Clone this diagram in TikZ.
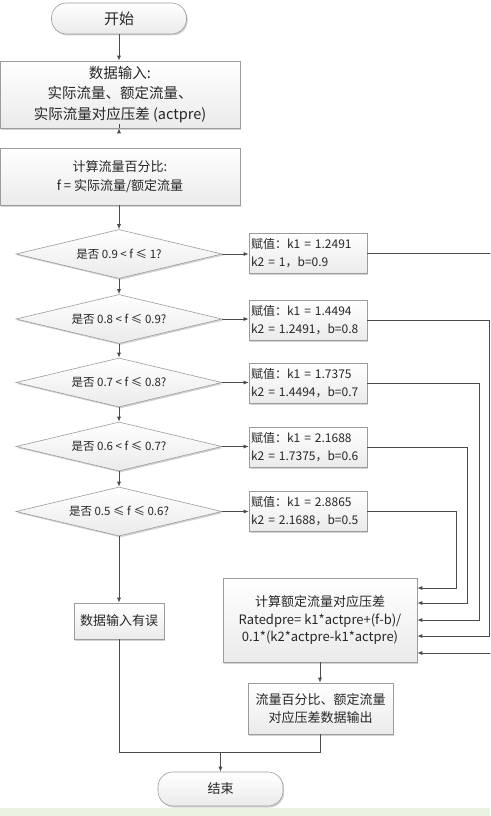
\documentclass[tikz,border=0pt]{standalone}
\usepackage{fontspec}
\setmainfont{Noto Sans CJK SC}
\usetikzlibrary{shapes.geometric,arrows.meta,shadows}
\definecolor{ln}{HTML}{4A4A4A}
\definecolor{bd}{HTML}{9C9C9C}
\definecolor{strip}{HTML}{EAF3E2}
\begin{document}
\begin{tikzpicture}[x=1pt,y=-1pt,
  shd/.style={drop shadow={shadow xshift=1.2pt,shadow yshift=-1.5pt,opacity=0.35,fill=gray}},
  box/.style={rectangle,draw=bd,line width=0.6pt,top color=white,bottom color=gray!16,shd,inner sep=2pt,align=center,text=black!85},
  term/.style={box,rounded corners=15pt},
  dia/.style={diamond,draw=bd,line width=0.6pt,top color=white,bottom color=gray!16,shd,inner sep=0pt,aspect=4.2,minimum width=206pt,minimum height=49pt,font=\fontsize{11.5}{13}\selectfont,text=black!85},
  asg/.style={box,align=left,text width=114pt,minimum height=40pt,font=\fontsize{12}{18}\selectfont},
  ln/.style={draw=ln,line width=0.8pt},
  arr/.style={ln,-{Latex[length=5pt,width=4pt]}}]
\clip (0,0) rectangle (490,816);
\fill[white] (0,0) rectangle (490,816);
\fill[strip] (0,808) rectangle (490,816);

\node[term,minimum width=135pt,minimum height=31pt,font=\fontsize{15}{18}\selectfont] (start) at (119,18.5) {开始};
\node[box,minimum width=240pt,minimum height=67pt,font=\fontsize{14.5}{20.5}\selectfont] (in) at (120,94.5) {数据输入:\\实际流量、额定流量、\\实际流量对应压差 (actpre)};
\node[box,minimum width=240pt,minimum height=57pt,font=\fontsize{13}{18.5}\selectfont] (calc) at (120,176.5) {计算流量百分比:\\f = 实际流量/额定流量};

\node[dia] (d1) at (119,254) {是否 0.9 < f ≤ 1?};
\node[dia] (d2) at (119,319) {是否 0.8 < f ≤ 0.9?};
\node[dia] (d3) at (119,382.5) {是否 0.7 < f ≤ 0.8?};
\node[dia] (d4) at (119,446.5) {是否 0.6 < f ≤ 0.7?};
\node[dia] (d5) at (119,511.5) {是否 0.5 ≤ f ≤ 0.6?};

\node[asg] (a1) at (308,253) {赋值：k1 = 1.2491\\k2 = 1，b=0.9};
\node[asg] (a2) at (308,320.5) {赋值：k1 = 1.4494\\k2 = 1.2491，b=0.8};
\node[asg] (a3) at (308,383) {赋值：k1 = 1.7375\\k2 = 1.4494，b=0.7};
\node[asg] (a4) at (308,447.5) {赋值：k1 = 2.1688\\k2 = 1.7375，b=0.6};
\node[asg] (a5) at (308,511.5) {赋值：k1 = 2.8865\\k2 = 2.1688，b=0.5};

\node[box,minimum width=90pt,minimum height=36pt,font=\fontsize{13}{16}\selectfont] (err) at (119,621) {数据输入有误};
\node[box,minimum width=194pt,minimum height=84pt,font=\fontsize{13}{17.5}\selectfont] (cp) at (320,620) {计算额定流量对应压差\\Ratedpre= k1*actpre+(f-b)/\\0.1*(k2*actpre-k1*actpre)};
\node[box,minimum width=145pt,minimum height=51pt,font=\fontsize{13}{17.5}\selectfont] (outp) at (320.5,708.5) {流量百分比、额定流量\\对应压差数据输出};
\node[term,minimum width=125pt,minimum height=34pt,font=\fontsize{13}{16}\selectfont] (end) at (220.5,789) {结束};

\coordinate (v1) at (495,0);
\coordinate (v2) at (489,0);
\coordinate (v3) at (479,0);
\coordinate (v4) at (467,0);
\coordinate (v5) at (456,0);
\coordinate (e1) at ([yshift=-33pt]cp.east);
\coordinate (e2) at ([yshift=-16pt]cp.east);
\coordinate (e3) at (cp.east);
\coordinate (e4) at ([yshift=17pt]cp.east);
\coordinate (e5) at ([yshift=32pt]cp.east);
\coordinate (j) at (220.5,752);

\draw[arr] (start.south) -- (start.south |- in.north);
\draw[arr] (in.south -| start.south) -- (in.south -| start.south |- calc.north);
\draw[arr] (calc.south -| d1.north) -- (d1.north);
\draw[arr] (d1.south) -- (d2.north);
\draw[arr] (d2.south) -- (d3.north);
\draw[arr] (d3.south) -- (d4.north);
\draw[arr] (d4.south) -- (d5.north);
\draw[arr] (d5.south) -- (err.north);

\draw[arr] (d1.east) -- (d1.east -| a1.west);
\draw[arr] (d2.east) -- (d2.east -| a2.west);
\draw[arr] (d3.east) -- (d3.east -| a3.west);
\draw[arr] (d4.east) -- (d4.east -| a4.west);
\draw[arr] (d5.east) -- (d5.east -| a5.west);

\draw[arr] (a1.east) -- (a1.east -| v1) |- (e1);
\draw[arr] (a2.east) -- (a2.east -| v2) |- (e2);
\draw[arr] (a3.east) -- (a3.east -| v3) |- (e3);
\draw[arr] (a4.east) -- (a4.east -| v4) |- (e4);
\draw[arr] (a5.east) -- (a5.east -| v5) |- (e5);

\draw[arr] (cp.south) -- (cp.south |- outp.north);
\draw[ln] (err.south) |- (j) -| (outp.south);
\draw[arr] (j) -- (end.north);
\end{tikzpicture}
\end{document}
